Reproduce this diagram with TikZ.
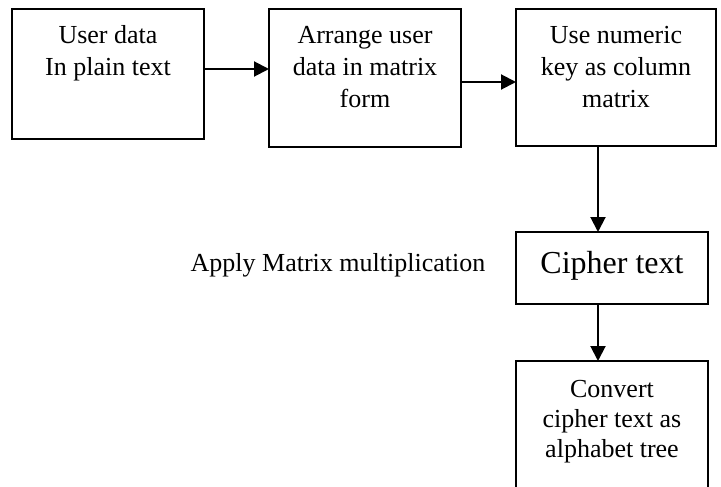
\documentclass[tikz,border=0pt]{standalone}
\usepackage{fontspec}
\setmainfont{Liberation Serif}
\usetikzlibrary{arrows.meta}
\begin{document}
\begin{tikzpicture}[x=1pt,y=-1pt,
  box/.style={draw=black,line width=2pt,inner sep=0pt,outer sep=0pt},
  txt/.style={inner sep=0pt,anchor=base,font=\fontsize{26}{32}\selectfont},
  arr/.style={line width=2pt,-{Triangle[length=15pt,width=15pt]}}]
\useasboundingbox (0,0) rectangle (721,487);
\fill[white] (0,0) rectangle (721,487);
\clip (0,0) rectangle (721,487);
% boxes
\node[box,minimum width=192pt,minimum height=130pt] (b1) at (108,74) {};
\node[box,minimum width=192pt,minimum height=138pt] (b2) at (365,78) {};
\node[box,minimum width=200pt,minimum height=137pt] (b3) at (616,77.5) {};
\node[box,minimum width=192pt,minimum height=72pt] (b4) at (612,268) {};
\node[box,minimum width=192pt,minimum height=170pt] (b5) at (612,446) {};
% texts
\node[txt] (t1) at (108,44) {\begin{tabular}[t]{@{}c@{}}User data\\In plain text\end{tabular}};
\node[txt] (t2) at (365,44) {\begin{tabular}[t]{@{}c@{}}Arrange user\\data in matrix\\form\end{tabular}};
\node[txt] (t3) at (616,44) {\begin{tabular}[t]{@{}c@{}}Use numeric\\key as column\\matrix\end{tabular}};
\node[txt,font=\fontsize{32}{38}\selectfont] (t4) at (612,273) {Cipher text};
\node[txt,font=\fontsize{26}{30}\selectfont] (t5) at (612,397) {\begin{tabular}[t]{@{}c@{}}Convert\\cipher text as\\alphabet tree\end{tabular}};
\node[txt] (lab) at (338,271) {Apply Matrix multiplication};
% connectors
\draw[arr] ([yshift=5pt]b1.east) -- ([yshift=5pt]b1.east -| b2.west);
\draw[arr] ([yshift=-4pt]b2.east) -- ([yshift=-4pt]b2.east -| b3.west);
\draw[arr] ([xshift=-18pt]b3.south) -- ([xshift=-18pt]b3.south |- b4.north);
\draw[arr] ([xshift=-14pt]b4.south) -- ([xshift=-14pt]b4.south |- b5.north);
\end{tikzpicture}
\end{document}
